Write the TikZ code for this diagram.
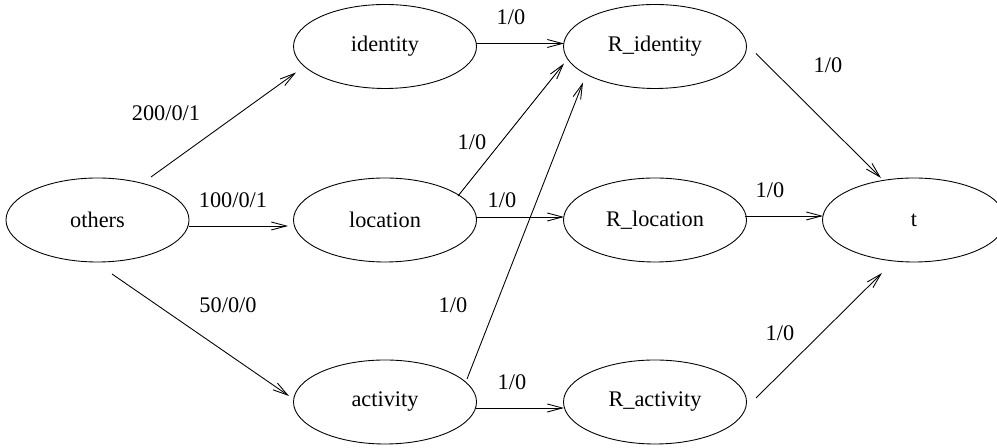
\documentclass[tikz,border=0pt]{standalone}
\usepackage{fontspec}
\setmainfont{Liberation Serif}
\usetikzlibrary{shapes.geometric,arrows.meta}
\tikzset{
  state/.style={ellipse, draw, line width=0.5pt, minimum width=3.66cm, minimum height=1.68cm, inner sep=0pt, font=\fontsize{12.7}{15}\selectfont},
  edgelbl/.style={font=\fontsize{12.7}{15}\selectfont, inner sep=0pt},
  flow/.style={line width=0.5pt, -{Straight Barb[length=3mm,width=1.6mm]}}
}
\begin{document}
\begin{tikzpicture}
                \useasboundingbox (0,0) rectangle (19.94,8.96);
                % nodes
                \node[state] (others) at (1.95,4.56) {others};
                \node[state] (identity) at (7.7,8.03) {identity};
                \node[state] (location) at (7.7,4.56) {location};
                \node[state] (activity) at (7.7,0.92) {activity};
                \node[state] (ridentity) at (13.1,8.03) {R\_identity};
                \node[state] (rlocation) at (13.1,4.56) {R\_location};
                \node[state] (ractivity) at (13.1,0.92) {R\_activity};
                \node[state] (t) at (18.28,4.56) {t};
                % edges from others
                \draw[flow] ([shift={(1.07,0.86)}]others.center) -- ([shift={(-1.78,-0.52)}]identity.center);
                \draw[flow] ([shift={(1.83,-0.12)}]others.center) -- ([shift={(-1.94,-0.12)}]location.center);
                \draw[flow] ([shift={(0.29,-1.08)}]others.center) -- ([shift={(-1.92,0.12)}]activity.center);
                \node[edgelbl] (l1) at (3.32,6.70) {200/0/1};
                \node[edgelbl] (l2) at (4.66,4.96) {100/0/1};
                \node[edgelbl] (l3) at (4.56,2.86) {50/0/0};
                % middle edges
                \draw[flow] ([shift={(1.82,0.06)}]identity.center) -- ([shift={(-1.82,0.06)}]ridentity.center);
                \draw[flow] ([shift={(1.46,0.48)}]location.center) -- ([shift={(-1.82,-0.34)}]ridentity.center);
                \draw[flow] ([shift={(1.82,0.06)}]location.center) -- ([shift={(-1.82,0.06)}]rlocation.center);
                \draw[flow] ([shift={(1.64,0.46)}]activity.center) -- ([shift={(-1.44,-0.72)}]ridentity.center);
                \draw[flow] ([shift={(1.82,-0.12)}]activity.center) -- ([shift={(-1.82,-0.12)}]ractivity.center);
                \node[edgelbl] (l4) at (10.22,8.62) {1/0};
                \node[edgelbl] (l5) at (9.44,6.12) {1/0};
                \node[edgelbl] (l6) at (10.04,4.96) {1/0};
                \node[edgelbl] (l7) at (9.06,2.86) {1/0};
                \node[edgelbl] (l8) at (10.24,1.32) {1/0};
                % edges into t
                \draw[flow] ([shift={(2.02,-0.14)}]ridentity.center) -- ([shift={(-0.66,0.84)}]t.center);
                \draw[flow] ([shift={(1.8,0.08)}]rlocation.center) -- ([shift={(-1.82,0.08)}]t.center);
                \draw[flow] ([shift={(2.02,0.08)}]ractivity.center) -- ([shift={(-0.64,-1.06)}]t.center);
                \node[edgelbl] (l9) at (16.56,7.66) {1/0};
                \node[edgelbl] (l10) at (15.4,5.16) {1/0};
                \node[edgelbl] (l11) at (15.6,2.30) {1/0};
\end{tikzpicture}
\end{document}
